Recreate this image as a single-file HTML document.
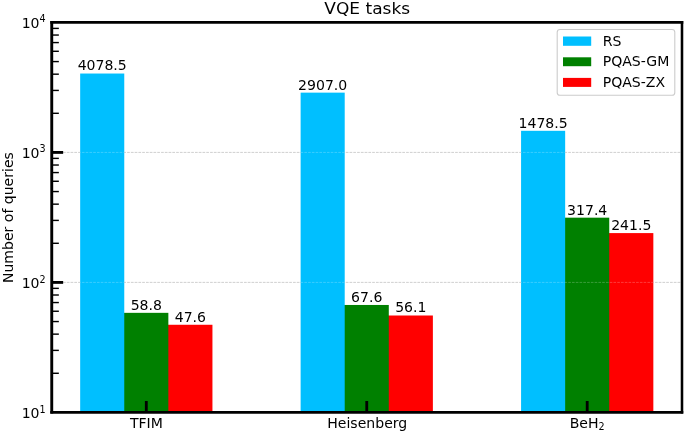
<!DOCTYPE html>
<html><head><meta charset="utf-8"><title>VQE tasks</title>
<style>html,body{margin:0;padding:0;background:#fff}svg{display:block}</style></head>
<body>
<svg xmlns="http://www.w3.org/2000/svg" width="685" height="434" viewBox="0 0 685 434" font-family="DejaVu Sans, Liberation Sans, sans-serif" fill="#000">
<rect width="685" height="434" fill="#fff"/>
<line x1="51.75" x2="682.2" y1="282.42" y2="282.42" stroke="#b0b0b0" stroke-width="0.72" stroke-dasharray="2.63 1.14"/>
<line x1="51.75" x2="682.2" y1="152.43" y2="152.43" stroke="#b0b0b0" stroke-width="0.72" stroke-dasharray="2.63 1.14"/>
<rect x="167.55" y="324.77" width="44.89" height="87.63" fill="#ff0000"/>
<rect x="387.99" y="315.50" width="44.89" height="96.90" fill="#ff0000"/>
<rect x="608.45" y="233.09" width="44.89" height="179.31" fill="#ff0000"/>
<rect x="123.46" y="312.84" width="44.89" height="99.56" fill="#008000"/>
<rect x="343.90" y="304.97" width="44.89" height="107.43" fill="#008000"/>
<rect x="564.36" y="217.67" width="44.89" height="194.73" fill="#008000"/>
<rect x="80.17" y="73.53" width="44.09" height="338.87" fill="#00bfff"/>
<rect x="300.62" y="92.64" width="44.09" height="319.76" fill="#00bfff"/>
<rect x="521.07" y="130.81" width="44.09" height="281.59" fill="#00bfff"/>
<line x1="51.75" x2="682.2" y1="282.42" y2="282.42" stroke="#ffffff" stroke-opacity="0.3" stroke-width="0.75" stroke-dasharray="2.63 1.14"/>
<line x1="51.75" x2="682.2" y1="152.43" y2="152.43" stroke="#ffffff" stroke-opacity="0.3" stroke-width="0.75" stroke-dasharray="2.63 1.14"/>
<line x1="51.75" x2="58.85" y1="373.27" y2="373.27" stroke="#000" stroke-width="1.42"/>
<line x1="51.75" x2="58.85" y1="350.38" y2="350.38" stroke="#000" stroke-width="1.42"/>
<line x1="51.75" x2="58.85" y1="334.14" y2="334.14" stroke="#000" stroke-width="1.42"/>
<line x1="51.75" x2="58.85" y1="321.55" y2="321.55" stroke="#000" stroke-width="1.42"/>
<line x1="51.75" x2="58.85" y1="311.25" y2="311.25" stroke="#000" stroke-width="1.42"/>
<line x1="51.75" x2="58.85" y1="302.55" y2="302.55" stroke="#000" stroke-width="1.42"/>
<line x1="51.75" x2="58.85" y1="295.01" y2="295.01" stroke="#000" stroke-width="1.42"/>
<line x1="51.75" x2="58.85" y1="288.36" y2="288.36" stroke="#000" stroke-width="1.42"/>
<line x1="51.75" x2="58.85" y1="243.29" y2="243.29" stroke="#000" stroke-width="1.42"/>
<line x1="51.75" x2="58.85" y1="220.40" y2="220.40" stroke="#000" stroke-width="1.42"/>
<line x1="51.75" x2="58.85" y1="204.16" y2="204.16" stroke="#000" stroke-width="1.42"/>
<line x1="51.75" x2="58.85" y1="191.56" y2="191.56" stroke="#000" stroke-width="1.42"/>
<line x1="51.75" x2="58.85" y1="181.27" y2="181.27" stroke="#000" stroke-width="1.42"/>
<line x1="51.75" x2="58.85" y1="172.57" y2="172.57" stroke="#000" stroke-width="1.42"/>
<line x1="51.75" x2="58.85" y1="165.03" y2="165.03" stroke="#000" stroke-width="1.42"/>
<line x1="51.75" x2="58.85" y1="158.38" y2="158.38" stroke="#000" stroke-width="1.42"/>
<line x1="51.75" x2="58.85" y1="113.30" y2="113.30" stroke="#000" stroke-width="1.42"/>
<line x1="51.75" x2="58.85" y1="90.42" y2="90.42" stroke="#000" stroke-width="1.42"/>
<line x1="51.75" x2="58.85" y1="74.18" y2="74.18" stroke="#000" stroke-width="1.42"/>
<line x1="51.75" x2="58.85" y1="61.58" y2="61.58" stroke="#000" stroke-width="1.42"/>
<line x1="51.75" x2="58.85" y1="51.29" y2="51.29" stroke="#000" stroke-width="1.42"/>
<line x1="51.75" x2="58.85" y1="42.58" y2="42.58" stroke="#000" stroke-width="1.42"/>
<line x1="51.75" x2="58.85" y1="35.05" y2="35.05" stroke="#000" stroke-width="1.42"/>
<line x1="51.75" x2="58.85" y1="28.40" y2="28.40" stroke="#000" stroke-width="1.42"/>
<line x1="51.75" x2="63.15" y1="282.42" y2="282.42" stroke="#000" stroke-width="2.84"/>
<line x1="51.75" x2="63.15" y1="152.43" y2="152.43" stroke="#000" stroke-width="2.84"/>
<line x1="146.30" x2="146.30" y1="412.4" y2="401.0" stroke="#000" stroke-width="2.84"/>
<line x1="366.75" x2="366.75" y1="412.4" y2="401.0" stroke="#000" stroke-width="2.84"/>
<line x1="587.20" x2="587.20" y1="412.4" y2="401.0" stroke="#000" stroke-width="2.84"/>
<path d="M50.3 22.4H683.275" stroke="#000" stroke-width="2.7" fill="none"/>
<path d="M50.3 412.25H683.275" stroke="#000" stroke-width="2.75" fill="none"/>
<path d="M51.75 21.05V413.6" stroke="#000" stroke-width="2.9" fill="none"/>
<path d="M682.0 21.05V413.6" stroke="#000" stroke-width="2.55" fill="none"/>
<text x="21.7" y="27.7" font-size="14.05">10<tspan dy="-5.6" font-size="9.6">4</tspan></text>
<text x="21.7" y="157.6" font-size="14.05">10<tspan dy="-5.2" font-size="9.6">3</tspan></text>
<text x="21.7" y="288.3" font-size="14.05">10<tspan dy="-5.2" font-size="9.6">2</tspan></text>
<text x="21.7" y="418.1" font-size="14.05">10<tspan dy="-5.2" font-size="9.6">1</tspan></text>
<text x="146.40" y="427.8" font-size="14.05" text-anchor="middle">TFIM</text>
<text x="367.25" y="427.8" font-size="14.05" text-anchor="middle">Heisenberg</text>
<text x="569.70" y="428.0" font-size="14.05">BeH<tspan dy="2.3" font-size="9.6">2</tspan></text>
<text x="102.21" y="70.48" font-size="14.05" text-anchor="middle">4078.5</text>
<text x="322.66" y="89.59" font-size="14.05" text-anchor="middle">2907.0</text>
<text x="543.11" y="127.76" font-size="14.05" text-anchor="middle">1478.5</text>
<text x="146.30" y="309.79" font-size="14.05" text-anchor="middle">58.8</text>
<text x="366.75" y="301.92" font-size="14.05" text-anchor="middle">67.6</text>
<text x="587.20" y="214.62" font-size="14.05" text-anchor="middle">317.4</text>
<text x="190.39" y="321.72" font-size="14.05" text-anchor="middle">47.6</text>
<text x="410.84" y="312.45" font-size="14.05" text-anchor="middle">56.1</text>
<text x="631.29" y="230.04" font-size="14.05" text-anchor="middle">241.5</text>
<text transform="translate(13.1 217.6) rotate(-90)" font-size="14.05" text-anchor="middle">Number of queries</text>
<text transform="translate(367.2 13.9) scale(1 0.95)" font-size="17.0" text-anchor="middle">VQE tasks</text>
<rect x="557.2" y="29.5" width="117.6" height="65.8" rx="2.8" fill="#fff" fill-opacity="0.8" stroke="#ccc" stroke-width="1.1"/>
<rect x="563" y="36.5" width="28.2" height="9.3" fill="#00bfff"/>
<text x="602.7" y="45.8" font-size="14.05">RS</text>
<rect x="563" y="57.3" width="28.2" height="8.9" fill="#008000"/>
<text x="602.7" y="66.15" font-size="14.05">PQAS-GM</text>
<rect x="563" y="77.9" width="28.2" height="9.0" fill="#ff0000"/>
<text x="602.7" y="86.9" font-size="14.05">PQAS-ZX</text>
</svg>
</body></html>
